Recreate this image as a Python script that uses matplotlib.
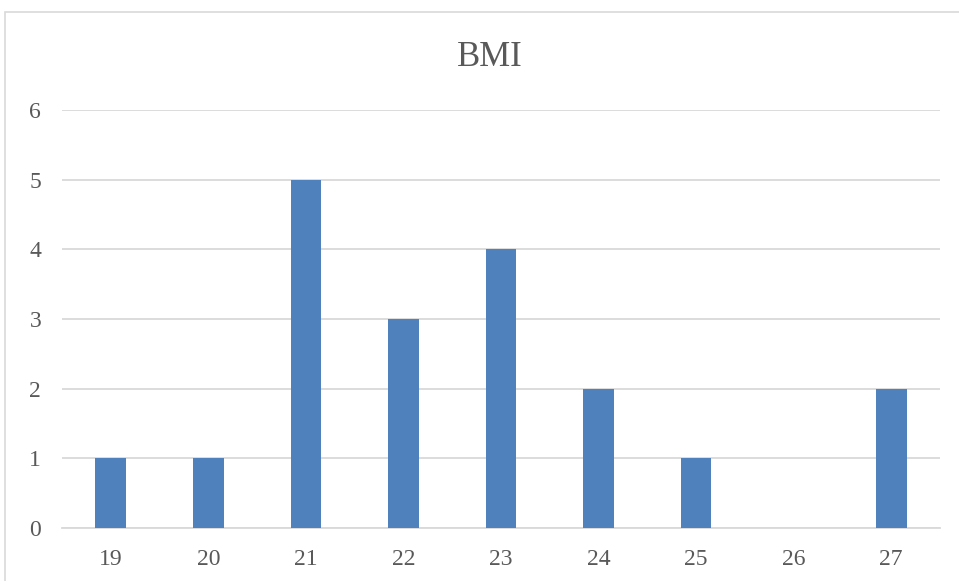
import matplotlib
matplotlib.use("Agg")
import matplotlib.pyplot as plt
from matplotlib.patches import Rectangle

# BMI value counts
bmi_values = ["19", "20", "21", "22", "23", "24", "25", "26", "27"]
counts = [1, 1, 5, 3, 4, 2, 1, 0, 2]
y_ticks = [0, 1, 2, 3, 4, 5, 6]

W, H = 959, 581
fig = plt.figure(figsize=(W / 100, H / 100), dpi=100)
fig.patch.set_facecolor("white")

plt.rcParams["font.family"] = ["Liberation Serif", "DejaVu Serif"]
text_color = "#595959"
grid_color = "#D9D9D9"
bar_color = "#4F81BD"

# chart frame
fig.patches.append(Rectangle((5 / W, -0.1), 1.2, 1 - 12 / H + 0.1,
                             transform=fig.transFigure, fill=False,
                             edgecolor=grid_color, linewidth=1.2))

ax = fig.add_axes([62 / W, 53 / H, (940 - 62) / W, (528 - 110) / H])
x = list(range(len(bmi_values)))
ax.bar(x, counts, width=0.315, color=bar_color, zorder=3)

ax.set_xlim(-0.5, len(bmi_values) - 0.5)
ax.set_ylim(0, 6)
ax.set_yticks(y_ticks)
ax.set_yticklabels([str(v) for v in y_ticks])
ax.set_xticks(x)
ax.set_xticklabels(bmi_values)
ax.yaxis.grid(True, color=grid_color, linewidth=1.3, zorder=0)
ax.xaxis.grid(False)
for s in ["top", "right", "left"]:
    ax.spines[s].set_visible(False)
ax.spines["bottom"].set_color(grid_color)
ax.spines["bottom"].set_linewidth(1.3)
ax.tick_params(axis="both", length=0, labelsize=17, colors=text_color)
ax.tick_params(axis="x", pad=15)
ax.tick_params(axis="y", pad=15)

fig.text(490 / W, 1 - 57 / H, "BMI", ha="center", va="center",
         fontsize=25, color=text_color)

fig.savefig("out.png", dpi=100, facecolor="white")
